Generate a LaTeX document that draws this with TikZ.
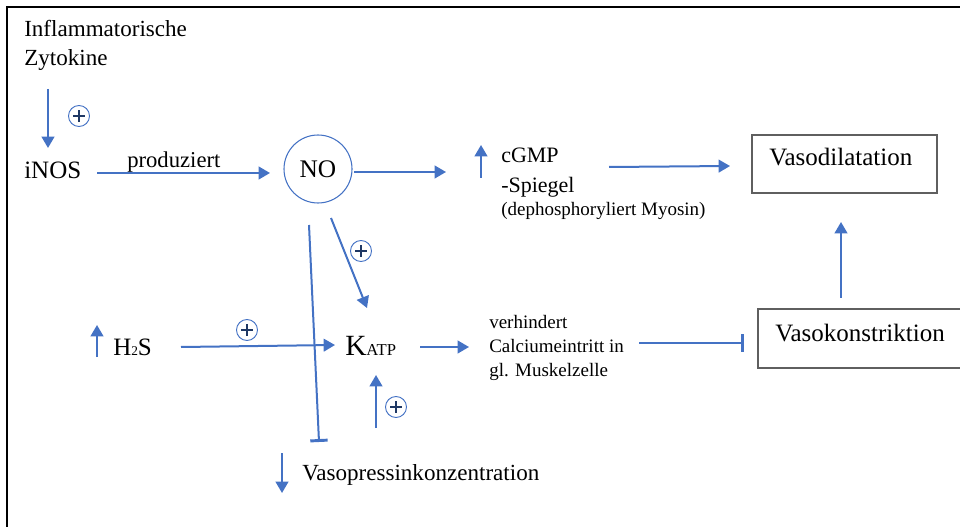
\documentclass[tikz,border=0pt]{standalone}
\usepackage{fontspec}
\setmainfont{Liberation Serif}
\usetikzlibrary{arrows.meta}
\definecolor{flow}{HTML}{4472C4}
\definecolor{navy}{HTML}{1F3864}
\definecolor{boxgray}{HTML}{5F5F5F}
\newcommand\setfs[1]{\fontsize{#1pt}{#1pt}\selectfont}
\tikzset{
  lbl/.style={inner sep=0pt, anchor=base west, text=black},
  arr/.style={draw=flow, line width=1.5pt, -{Triangle[length=8.5pt,width=9.5pt]}},
  inhib/.style={draw=flow, line width=1.5pt, -{Bar[width=13pt,line width=2.2pt]}},
  framebox/.style={draw=boxgray, line width=1.1pt, inner sep=0pt},
  plusmark/.style={circle, draw=flow, line width=0.7pt, minimum size=15.75pt, inner sep=0pt,
    path picture={
      \draw[navy, line width=1.9pt]
        ([xshift=-4.2pt]path picture bounding box.center) -- ([xshift=4.2pt]path picture bounding box.center);
      \draw[navy, line width=1.9pt]
        ([yshift=-4.2pt]path picture bounding box.center) -- ([yshift=4.2pt]path picture bounding box.center);
    }},
}
\begin{document}
\begin{tikzpicture}[x=0.75pt, y=-0.75pt]
  \useasboundingbox (0,0) rectangle (960,527);
  \clip (0,0) rectangle (960,527);

  % outer frame (top and left edges)
  \draw[black, line width=1.5pt] (7,527) -- (7,7) -- (965,7);

  % text labels
  \node[lbl, font=\setfs{17.3}] (infl) at (24,37) {Inflammatorische};
  \node[lbl, font=\setfs{17.3}] (zyto) at (24,66) {Zytokine};
  \node[lbl, font=\setfs{18.75}] (inos) at (24,179) {iNOS};
  \node[lbl, font=\setfs{17}] (prod) at (127,168) {produziert};
  \node[circle, draw=flow, line width=0.8pt, minimum size=51pt, inner sep=0pt,
        font=\setfs{19}] (no) at (318,169) {NO};
  \node[lbl, font=\setfs{16.5}] (cgmp) at (501,163) {cGMP};
  \node[lbl, font=\setfs{16.5}] (spieg) at (501,193) {-Spiegel};
  \node[lbl, font=\setfs{14.25}] (myo) at (501,216) {(dephosphoryliert Myosin)};

  \node[framebox, minimum width=138.75pt, minimum height=43.5pt] (vdbox) at (844.5,164) {};
  \node[lbl, font=\setfs{18.75}] (vdtext) at (769,166) {Vasodilatation};
  \node[framebox, minimum width=181.5pt, minimum height=44.25pt] (vkbox) at (879,338.5) {};
  \node[lbl, font=\setfs{18.75}] (vktext) at (775,341) {Vasokonstriktion};

  \node[lbl, font=\setfs{18.75}] (h2s) at (113,355) {H{\setfs{10}2}S};
  \node[lbl, font=\setfs{22}] (katp) at (345,355) {K{\setfs{12.5}ATP}};
  \node[lbl, font=\setfs{14.25}] (ca1) at (489,328) {verhindert};
  \node[lbl, font=\setfs{14.25}] (ca2) at (489,352) {Calciumeintritt in};
  \node[lbl, font=\setfs{14.25}] (ca3) at (489,376) {gl. Muskelzelle};
  \node[lbl, font=\setfs{17.3}] (vaso) at (302,480) {Vasopressinkonzentration};

  % activation marks
  \node[plusmark] (p1) at (79,116) {};
  \node[plusmark] (p2) at (361,251) {};
  \node[plusmark] (p3) at (247,330) {};
  \node[plusmark] (p4) at (396,407) {};

  % connector end points
  \coordinate (zyS) at (48,89);    \coordinate (zyE) at (48,148);
  \coordinate (inS) at (97,173);   \coordinate (inE) at (270,173);
  \coordinate (noS) at (354,172);  \coordinate (noE) at (446,172);
  \coordinate (cgS) at (481,178);  \coordinate (cgE) at (481,145);
  \coordinate (vdS) at (609,167);  \coordinate (vdE) at (730,166);
  \coordinate (vkS) at (841,298);  \coordinate (vkE) at (841,222);
  \coordinate (nkS) at (331,218);  \coordinate (nkE) at (367,308);
  \coordinate (nvS) at (309,225);  \coordinate (nvE) at (319,442);
  \coordinate (hsS) at (97,357);   \coordinate (hsE) at (97,325);
  \coordinate (hkS) at (181,347);  \coordinate (hkE) at (335,345);
  \coordinate (kuS) at (376,428);  \coordinate (kuE) at (376,375);
  \coordinate (kcS) at (420,347);  \coordinate (kcE) at (469,347);
  \coordinate (ciS) at (639,343);  \coordinate (ciE) at (744,343);
  \coordinate (vpS) at (282,453);  \coordinate (vpE) at (282,493);

  % connectors
  \draw[arr] (zyS) -- (zyE);
  \draw[arr] (inS) -- (inE);
  \draw[arr] (noS) -- (noE);
  \draw[arr] (cgS) -- (cgE);
  \draw[arr] (vdS) -- (vdE);
  \draw[arr] (vkS) -- (vkE);
  \draw[arr] (nkS) -- (nkE);
  \draw[inhib] (nvS) -- (nvE);
  \draw[arr] (hsS) -- (hsE);
  \draw[arr] (hkS) -- (hkE);
  \draw[arr] (kuS) -- (kuE);
  \draw[arr] (kcS) -- (kcE);
  \draw[inhib] (ciS) -- (ciE);
  \draw[arr] (vpS) -- (vpE);
\end{tikzpicture}
\end{document}
